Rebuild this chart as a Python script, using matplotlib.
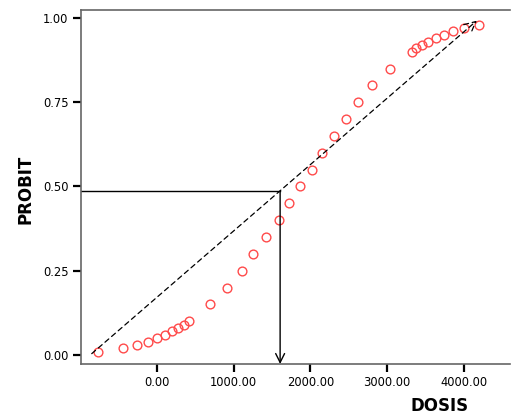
import matplotlib.pyplot as plt

# Observed dose vs probit values
DOSIS = [-774, -448, -261, -121, -4, 100, 200, 278, 348, 413,
         688, 910, 1114, 1257, 1423, 1593, 1723, 1867, 2023, 2154,
         2311, 2467, 2624, 2807, 3042, 3320, 3381, 3455, 3538, 3638,
         3738, 3860, 4000, 4195]
PROBIT = [0.01, 0.02, 0.03, 0.04, 0.05, 0.06, 0.07, 0.08, 0.09, 0.10,
          0.15, 0.20, 0.25, 0.30, 0.35, 0.40, 0.45, 0.50, 0.55, 0.60,
          0.65, 0.70, 0.75, 0.80, 0.85, 0.90, 0.91, 0.92, 0.93, 0.94,
          0.95, 0.96, 0.97, 0.98]

# fitted trend (dashed arrow) and the read-off at probit ~0.49
TREND_START = (-850, 0.004)
TREND_END = (4170, 0.992)
READ_PROBIT = 0.486
READ_DOSIS = 1606

X_TICKS = [0, 1000, 2000, 3000, 4000]
Y_TICKS = [0.0, 0.25, 0.50, 0.75, 1.0]
XMIN, XMAX = -990, 4603
YMIN, YMAX = -0.0267, 1.0237

fig = plt.figure(figsize=(5.12, 4.16), dpi=100)
ax = fig.add_axes([81 / 512, 52 / 416, 429 / 512, 354 / 416])

ax.plot(DOSIS, PROBIT, linestyle="none", marker="o", markersize=6.3,
        markerfacecolor="none", markeredgecolor="#ff4a4a", markeredgewidth=1.0)

ax.annotate("", xy=TREND_END, xytext=TREND_START,
            arrowprops=dict(arrowstyle="->", color="black", lw=0.9,
                            linestyle=(0, (4, 3)), shrinkA=0, shrinkB=0,
                            mutation_scale=20))

ax.plot([XMIN, READ_DOSIS], [READ_PROBIT, READ_PROBIT], color="black", lw=1.0)
ax.annotate("", xy=(READ_DOSIS, YMIN), xytext=(READ_DOSIS, READ_PROBIT),
            arrowprops=dict(arrowstyle="->", color="black", lw=1.0,
                            shrinkA=0, shrinkB=0, mutation_scale=16))

ax.set_xlim(XMIN, XMAX)
ax.set_ylim(YMIN, YMAX)
ax.set_xticks(X_TICKS)
ax.set_xticklabels([f"{t:.2f}" for t in X_TICKS])
ax.set_yticks(Y_TICKS)
ax.set_yticklabels([f"{t:.2f}" for t in Y_TICKS])

ax.spines["right"].set_visible(False)
for s in ("left", "bottom", "top"):
    ax.spines[s].set_color("#666666")
    ax.spines[s].set_linewidth(1.2)

ax.tick_params(direction="out", length=6, width=1.6, color="black",
               labelsize=8.3, pad=3)

fig.text(25 / 512, 1 - 189 / 416, "PROBIT", rotation=90, ha="center",
         va="center", fontsize=12, fontweight="bold")
fig.text(440 / 512, 1 - 406 / 416, "DOSIS", ha="center", va="center",
         fontsize=12, fontweight="bold")

fig.savefig("out.png", dpi=100)
